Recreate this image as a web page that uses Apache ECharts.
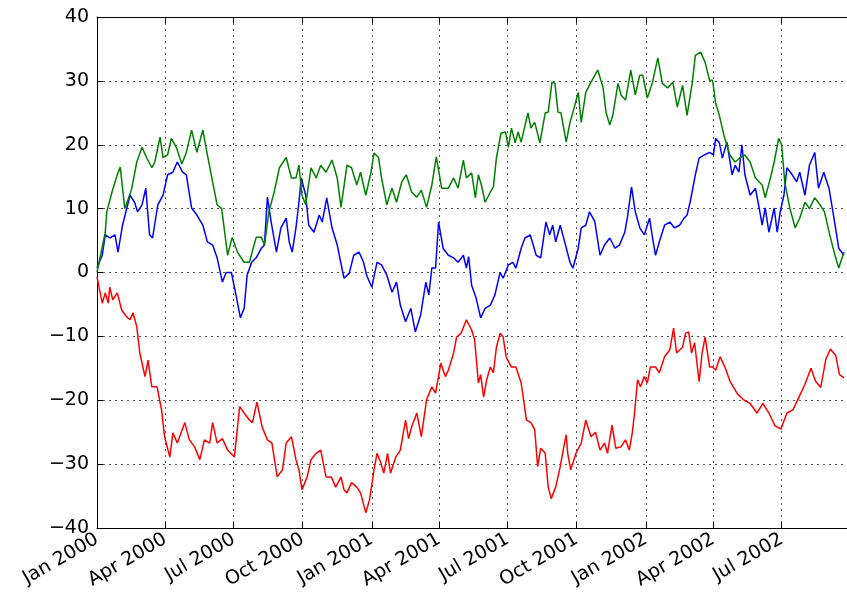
<!DOCTYPE html>
<html>
<head>
<meta charset="utf-8">
<script src="https://cdn.jsdelivr.net/npm/echarts@6/dist/echarts.min.js"></script>
<style>
html, body { margin: 0; padding: 0; background: #fff; }
#chart { width: 847px; height: 597px; }
</style>
</head>
<body>
<div id="chart"></div>
<script>
// days counted from startDate; the walk runs for 1000 days
var startDate = '2000-01-01';
var lastDay = 999;

var tickDates = ['2000-01-01', '2000-04-01', '2000-07-01', '2000-10-01', '2001-01-01', '2001-04-01',
	'2001-07-01', '2001-10-01', '2002-01-01', '2002-04-01', '2002-07-01'];
var tickLabels = ['Jan 2000', 'Apr 2000', 'Jul 2000', 'Oct 2000', 'Jan 2001', 'Apr 2001',
	'Jul 2001', 'Oct 2001', 'Jan 2002', 'Apr 2002', 'Jul 2002'];

var blueDays = [0, 7, 11, 17, 24, 28, 34, 44, 50, 54, 60, 65, 70, 74, 81, 88, 94, 101, 107, 114,
	119, 126, 133, 141, 147, 154, 160, 167, 172, 179, 186, 191, 196, 200, 206, 212, 219, 223, 227, 232,
	239, 245, 252, 256, 260, 265, 269, 272, 278, 282, 289, 296, 300, 306, 313, 320, 322, 329, 336, 342,
	349, 355, 359, 366, 373, 379, 386, 393, 399, 404, 411, 418, 424, 431, 438, 442, 446, 451, 455, 461,
	468, 475, 481, 488, 492, 495, 499, 505, 511, 517, 524, 530, 537, 541, 548, 554, 558, 565, 570, 577,
	581, 585, 591, 598, 603, 607, 611, 617, 623, 630, 634, 641, 645, 651, 656, 663, 670, 676, 683, 690,
	696, 703, 707, 712, 717, 723, 729, 736, 740, 744, 749, 756, 763, 769, 776, 782, 786, 790, 797, 802,
	809, 816, 821, 824, 829, 833, 839, 846, 850, 855, 859, 863, 870, 877, 882, 886, 890, 895, 902, 906,
	910, 915, 919, 926, 932, 936, 943, 949, 956, 961, 968, 975, 981, 988, 995];
var blueValues = [0.7, 2.7, 5.9, 5.4, 5.9, 3.2, 7.4, 12.1, 11, 9.5, 10.6, 13.2, 5.9, 5.4, 10.6, 12.1, 15.3, 15.7, 17.3, 15.7,
	15.3, 10.1, 9, 7.4, 4.8, 4.3, 2.3, -1.5, 0, 0, -4, -7.1, -5.6, -0.4, 1.6, 2.3, 3.8, 4.3, 11.8, 7.9,
	3.2, 7, 8.5, 4.8, 3.2, 7, 11, 14.8, 12.1, 7.4, 6.3, 9, 7.9, 11.7, 7, 4.3, 4.3, -0.9, -0.1, 2.7,
	3.2, 1.6, -0.4, -2.3, 1.6, 1.2, -0.4, -3.1, -1.5, -5.1, -7.7, -5.6, -9.3, -6.7, -1.5, -3.5, 0.7, 0.7, 7.9, 3.8,
	2.7, 2.3, 1.6, 2.7, 0.7, 2.5, -2, -4, -7.1, -5.6, -5.1, -3.5, 0, -0.9, 1.2, 1.6, 0.7, 3.8, 5.4, 5.9,
	4.3, 2.7, 2.3, 7.9, 5.9, 7.4, 4.8, 7.4, 4.8, 1.6, 0.7, 3.8, 7, 7.4, 9.5, 8, 2.7, 4.3, 5.4, 3.8,
	4.3, 6.3, 9, 13.4, 9.5, 7, 5.9, 8.5, 5.4, 2.7, 4.8, 7.4, 7.9, 7, 7.4, 8.5, 9, 11, 15.3, 17.9,
	18.4, 18.8, 18.4, 21, 20.3, 17.9, 20.4, 15.3, 16.8, 15.7, 20, 15.3, 12.1, 13.2, 10.1, 7.4, 10.1, 6.3, 10.1, 6.3,
	9.5, 12.1, 16.4, 15.3, 14.2, 15.7, 12.1, 16.8, 18.8, 13.2, 15.7, 13.2, 9, 3.8, 2.7];

var greenDays = [0, 11, 13, 20, 27, 31, 37, 46, 53, 60, 66, 73, 77, 84, 88, 94, 99, 106, 113, 119,
	126, 133, 141, 147, 154, 160, 166, 174, 180, 187, 196, 203, 212, 219, 223, 229, 236, 243, 252, 259,
	265, 269, 273, 278, 285, 292, 298, 305, 313, 320, 325, 333, 339, 346, 351, 358, 365, 369, 375, 379,
	386, 393, 399, 406, 412, 419, 426, 432, 439, 446, 452, 459, 468, 475, 481, 488, 492, 499, 504, 508,
	512, 517, 524, 528, 532, 538, 544, 548, 552, 557, 561, 565, 574, 578, 583, 590, 597, 601, 606, 610,
	614, 618, 625, 630, 634, 641, 645, 651, 658, 667, 674, 678, 683, 687, 694, 698, 704, 711, 717, 723,
	727, 733, 740, 747, 753, 760, 767, 773, 780, 786, 793, 797, 804, 810, 816, 820, 824, 829, 835, 839,
	843, 850, 857, 863, 870, 877, 886, 890, 897, 902, 908, 912, 916, 923, 930, 936, 943, 949, 956, 963,
	969, 976, 983, 988, 995];
var greenValues = [0, 6.3, 9.5, 12.6, 15.3, 16.5, 10, 13, 17.3, 19.6, 18, 16.4, 17.3, 21.2, 18, 18.4, 21, 19.5, 17, 18.8,
	22.3, 18.8, 22.3, 18.4, 14.2, 10.6, 10, 2.7, 5.5, 3.2, 1.6, 1.6, 5.5, 5.5, 4.3, 9.5, 12.6, 16.4, 18, 14.8,
	14.8, 16.8, 12.1, 10.6, 16.4, 14.8, 16.8, 15.7, 17.6, 14.8, 10.2, 16.8, 16.4, 13.7, 15.7, 12.1, 15.7, 18.7, 18, 14.8,
	10.6, 13.2, 11, 14.2, 15.3, 12.6, 11.8, 12.9, 10.2, 13.7, 18.1, 13.2, 13.2, 14.8, 13.2, 17.6, 14.8, 15.6, 11.7, 15.3,
	13.7, 11, 12.6, 13.4, 17.9, 21.8, 22, 19.6, 22.6, 20.3, 22, 20.4, 25, 22.6, 23.5, 20.3, 25, 25.1, 29.8, 29.6,
	25.1, 25, 20.4, 23.5, 25.1, 28.2, 23.5, 28.2, 29.8, 31.7, 29, 25.1, 23.1, 24.6, 29.6, 27.8, 27, 31.7, 27.8, 30.9,
	30.9, 27.3, 29.8, 33.6, 29.6, 28.9, 29.8, 25.9, 29.3, 24.6, 29.8, 34, 34.5, 32.9, 30.1, 30.1, 26.5, 24.6, 21.5, 20,
	18.4, 17.3, 18, 18.4, 17.3, 14.8, 13.7, 11.7, 14.8, 17.3, 21, 20, 14.2, 10, 7, 8.5, 11, 10, 11.7, 10.6,
	9.5, 5.9, 2.7, 0.7, 3.2];

var redDays = [0, 7, 11, 15, 17, 21, 27, 33, 40, 44, 48, 53, 57, 64, 68, 73, 80, 86, 90, 97,
	101, 107, 117, 123, 130, 137, 143, 150, 154, 160, 167, 174, 183, 190, 196, 203, 207, 213, 220, 227,
	233, 240, 247, 252, 259, 265, 269, 273, 280, 285, 292, 298, 305, 312, 318, 325, 329, 333, 339, 346,
	351, 358, 363, 369, 373, 378, 382, 387, 391, 398, 404, 411, 415, 419, 426, 432, 439, 446, 451, 458,
	464, 468, 475, 479, 485, 492, 499, 503, 508, 511, 515, 519, 524, 528, 532, 537, 541, 545, 552, 558,
	565, 572, 578, 583, 587, 591, 597, 601, 605, 611, 617, 621, 625, 627, 631, 638, 645, 651, 658, 664,
	670, 676, 680, 686, 691, 698, 704, 709, 713, 716, 720, 724, 729, 733, 737, 744, 749, 756, 763, 768,
	772, 780, 784, 788, 792, 796, 802, 806, 810, 816, 820, 824, 830, 837, 843, 853, 862, 870, 879, 887,
	895, 903, 911, 919, 927, 935, 943, 951, 957, 964, 971, 977, 984, 989, 995];
var redValues = [-0.7, -4.8, -3.2, -4.8, -2.3, -4.3, -3.2, -5.9, -7, -7.4, -6.3, -8.5, -12.6, -16.3, -13.7, -17.9, -17.9, -21.5, -25.7, -28.9,
	-25.1, -26.7, -23.5, -26.2, -27.3, -29.3, -26.2, -26.7, -23.5, -26.7, -26, -27.8, -28.9, -21, -22, -23.1, -23.5, -20.3, -24.2, -26.2,
	-26.7, -32, -30.9, -26.7, -25.7, -29.3, -30.9, -34, -32, -29.3, -28.3, -27.8, -32, -32, -33.6, -32, -34, -34.5, -32.9, -33.6,
	-34.5, -37.6, -35.6, -30.9, -28.3, -29.8, -31.4, -28.3, -31.4, -28.9, -27.8, -23.1, -26, -24.2, -22, -25.7, -19.9, -17.9, -18.9, -14.2,
	-16.3, -15.3, -12.6, -10.1, -9.5, -7.4, -9, -10.5, -17.3, -16, -19.5, -16.8, -14.8, -15.7, -11.7, -9.5, -10.1, -13.2, -14.8, -14.8,
	-17.3, -23.1, -23.5, -24.6, -30.4, -27.5, -28.3, -33.6, -35.4, -33.6, -30.4, -27.8, -25.4, -28.3, -30.9, -28.3, -26.7, -23.1, -25.7, -25,
	-27.8, -26.7, -28.3, -23.9, -27.5, -27.3, -26.2, -27.8, -25.1, -22, -16.8, -17.9, -16.3, -17.3, -14.8, -14.8, -15.7, -13.2, -12.1, -8.7,
	-12.6, -11.7, -9.5, -9.3, -12.6, -11, -17.1, -12.6, -10.1, -14.8, -14.8, -15.3, -13.2, -15, -17, -19, -20, -20.5, -22, -20.5,
	-22, -24, -24.5, -22, -21.5, -19.5, -17.5, -15, -17, -18, -13.5, -12, -13, -16, -16.5];

function dayOf(d){
	return Math.round((Date.parse(d) - Date.parse(startDate)) / 864e5);
}

var tickDays = tickDates.map(dayOf);

function pairs(days, values){
	return days.map(function(d, i){ return [d, values[i]]; });
}

function makeSeries(name, color, days, values){
	return {
		name: name,
		type: 'line',
		showSymbol: false,
		symbol: 'none',
		lineStyle: { color: color, width: 1.5 },
		itemStyle: { color: color },
		data: pairs(days, values)
	};
}

var gridDash = { color: '#555', width: 1, type: [2, 4] };

var chart = echarts.init(document.getElementById('chart'));
var option = {
	animation: false,
	backgroundColor: '#fff',
	// the right spine falls just outside the picture
	grid: { left: 97, top: 17, width: 754, height: 511 },
	xAxis: [
		{
			type: 'value',
			min: 0,
			max: lastDay,
			axisLine: { show: true, onZero: false, lineStyle: { color: '#000', width: 1 } },
			axisTick: { show: true, inside: true, length: 6, customValues: tickDays, lineStyle: { color: '#000' } },
			axisLabel: {
				show: true,
				customValues: tickDays,
				rotate: 30,
				margin: 10,
				color: '#000',
				fontSize: 19,
				fontFamily: 'DejaVu Sans',
				formatter: function(v){
					var i = tickDays.indexOf(Math.round(v));
					return i >= 0 ? tickLabels[i] : '';
				}
			},
			splitLine: { show: true, lineStyle: gridDash }
		},
		{
			type: 'value',
			position: 'top',
			min: 0,
			max: lastDay,
			axisLine: { show: true, onZero: false, lineStyle: { color: '#000', width: 1 } },
			axisTick: { show: true, inside: true, length: 6, customValues: tickDays, lineStyle: { color: '#000' } },
			axisLabel: { show: false },
			splitLine: { show: false }
		}
	],
	yAxis: {
		type: 'value',
		min: -40,
		max: 40,
		interval: 10,
		axisLine: { show: true, onZero: false, lineStyle: { color: '#000', width: 1 } },
		axisTick: { show: true, inside: true, length: 6, lineStyle: { color: '#000' } },
		axisLabel: {
			color: '#000',
			fontSize: 19,
			fontFamily: 'DejaVu Sans',
			margin: 8,
			formatter: function(v){ return String(v).replace('-', '\u2212'); }
		},
		splitLine: { show: true, lineStyle: gridDash }
	},
	series: [
		makeSeries('A', '#0000ff', blueDays, blueValues),
		makeSeries('B', '#008000', greenDays, greenValues),
		makeSeries('C', '#ff0000', redDays, redValues)
	]
};
chart.setOption(option);
</script>
</body>
</html>
